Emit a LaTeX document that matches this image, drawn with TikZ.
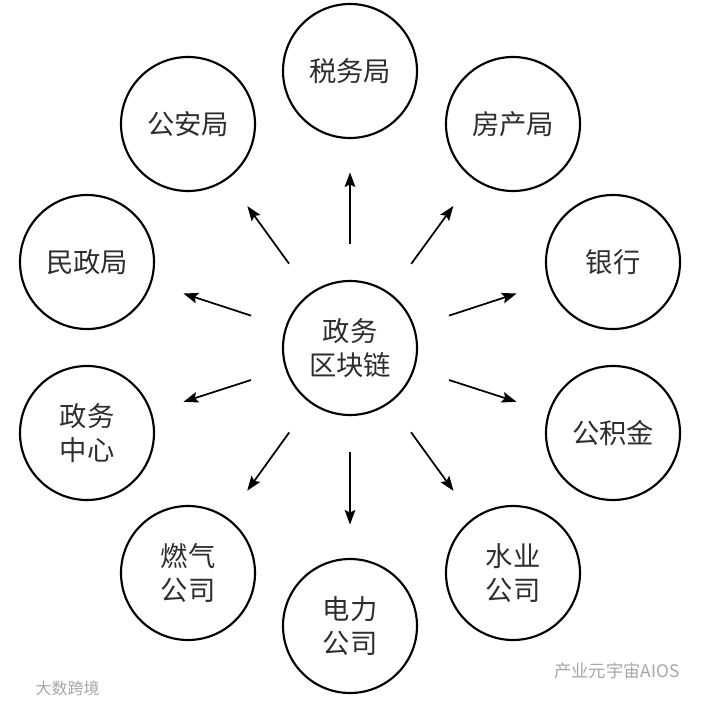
\documentclass[tikz,border=0pt]{standalone}
\usepackage{fontspec}
\newfontfamily\cjk{Noto Sans CJK SC}
\usetikzlibrary{arrows.meta}

\tikzset{every picture/.style={line width=0.75pt}}
\tikzset{
    unit/.style={draw=black, circle, line width=1.6pt, minimum size=100.5pt, inner sep=0pt, align=center, font=\cjk\fontsize{20.5}{25}\selectfont, text=black!82},
    flow/.style={draw=black, line width=1.3pt, -{Stealth[length=11pt,width=8pt,inset=2pt]}, shorten <=27pt, shorten >=25pt},
    wmtext/.style={text=black!35, font=\cjk\fontsize{12}{14}\selectfont, inner sep=0.75pt}
}

\begin{document}
\begin{tikzpicture}[x=0.75pt,y=0.75pt,yscale=-1,xscale=1]
        \useasboundingbox (0,0) rectangle (703,702);

        % Hub node
        \node [unit] (hub) at (350,348) {政务\\区块链};

        % Circle nodes
        \node [unit] (tax) at (350,71) {税务局};
        \node [unit] (house) at (513,124) {房产局};
        \node [unit] (bank) at (613,262) {银行};
        \node [unit] (fund) at (613,433) {公积金};
        \node [unit] (water) at (513,573) {水业\\公司};
        \node [unit] (power) at (350,626) {电力\\公司};
        \node [unit] (gas) at (188,573) {燃气\\公司};
        \node [unit] (center) at (87,433) {政务\\中心};
        \node [unit] (civil) at (87,262) {民政局};
        \node [unit] (police) at (188,124) {公安局};

        % Arrows
        \draw [flow] (hub) -- (tax);
        \draw [flow] (hub) -- (house);
        \draw [flow] (hub) -- (bank);
        \draw [flow] (hub) -- (fund);
        \draw [flow] (hub) -- (water);
        \draw [flow] (hub) -- (power);
        \draw [flow] (hub) -- (gas);
        \draw [flow] (hub) -- (center);
        \draw [flow] (hub) -- (civil);
        \draw [flow] (hub) -- (police);

        % Text Node
        \node [wmtext, anchor=west] (wmleft) at (34,688) {大数跨境};
        % Text Node
        \node [wmtext, anchor=east, font=\cjk\fontsize{13}{15}\selectfont] (wmright) at (681,671) {产业元宇宙AIOS};
\end{tikzpicture}
\end{document}
